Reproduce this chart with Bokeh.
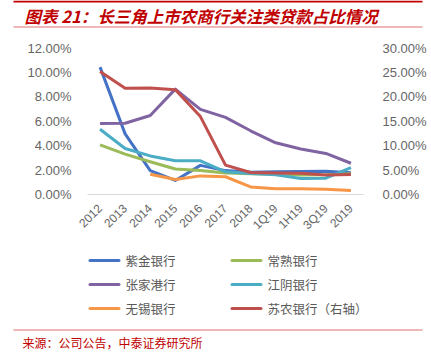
import math
from bokeh.plotting import figure
from bokeh.layouts import column
from bokeh.models import (Range1d, FactorRange, LinearAxis, FixedTicker,
                          PrintfTickFormatter)
from bokeh.core.properties import value
from bokeh.embed import file_html
from bokeh.resources import INLINE

# ---------------- data ----------------
categories = ["2012", "2013", "2014", "2015", "2016", "2017", "2018",
              "1Q19", "1H19", "3Q19", "2019"]
nan = float("nan")
zijin = [10.4, 4.95, 1.95, 1.15, 2.38, 1.95, 1.82, 1.85, 1.88, 1.9, 1.78]
changshu = [4.05, 3.3, 2.67, 2.08, 1.95, 1.75, 1.7, 1.65, 1.6, 1.62, 1.7]
zhangjiagang = [5.8, 5.82, 6.45, 8.6, 6.95, 6.3, 5.2, 4.22, 3.72, 3.35, 2.55]
jiangyin = [5.33, 3.75, 3.15, 2.75, 2.75, 1.85, 1.72, 1.62, 1.3, 1.33, 2.2]
wuxi = [nan, nan, 1.65, 1.22, 1.52, 1.45, 0.62, 0.47, 0.47, 0.42, 0.33]
sunong_right = [25.1, 21.7, 21.75, 21.4, 15.9, 6.0, 4.5, 4.4, 4.35, 4.0, 4.1]

series_names = ["紫金银行", "常熟银行", "张家港行", "江阴银行", "无锡银行", "苏农银行（右轴）"]
left_ticks = [0, 2, 4, 6, 8, 10, 12]
right_ticks = [0, 5, 10, 15, 20, 25, 30]
title_text = "图表 21：长三角上市农商行关注类贷款占比情况"
source_text = "来源：公司公告，中泰证券研究所"

colors = ["#4472C4", "#9BBB59", "#8064A2", "#4BACC6", "#F79646", "#C0504D"]

W = 431
cjk = "Noto Sans CJK SC"
tick_font = "Liberation Sans"
gray = "#666666"


def blank_fig(h):
    f = figure(width=W, height=h, output_backend="svg", toolbar_location=None,
               tools="", x_range=Range1d(0, W), y_range=Range1d(0, h),
               x_axis_type=None, y_axis_type=None,
               min_border=0, min_border_left=0, min_border_right=0,
               min_border_top=0, min_border_bottom=0, frame_align=False)
    f.outline_line_color = None
    f.xgrid.grid_line_color = None
    f.ygrid.grid_line_color = None
    f.background_fill_color = "white"
    f.border_fill_color = "white"
    return f


# ---------------- title strip (canvas y 0..40), y measured upward ----------------
TOP_H = 40
top = blank_fig(TOP_H)
top.line(x=[13, 422], y=[TOP_H - 1, TOP_H - 1], line_color="#C00000", line_width=2)
top.line(x=[13, 422], y=[TOP_H - 26.5, TOP_H - 26.5], line_color="#E8A0A0",
         line_width=1.5)
top.text(x=[24], y=[TOP_H - 15], text=[title_text], text_font=value(cjk),
         text_font_size="16.5px", text_font_style="bold italic",
         text_color="#C00000", text_baseline="middle", text_align="left")

# ---------------- main chart (canvas y 40..240) ----------------
MAIN_TOP, MAIN_BOT = 40, 240
FL, FR, FT, FB = 87, 363, 47, 197  # frame edges (canvas px)

p = figure(width=W, height=MAIN_BOT - MAIN_TOP, output_backend="svg",
           toolbar_location=None, tools="",
           x_range=FactorRange(factors=categories, range_padding=0),
           y_range=Range1d(0, 12),
           min_border_left=FL, min_border_right=W - FR,
           min_border_top=FT - MAIN_TOP, min_border_bottom=MAIN_BOT - FB,
           frame_align=False)
p.extra_y_ranges = {"right": Range1d(0, 30)}
p.outline_line_color = None
p.xgrid.grid_line_color = None
p.ygrid.grid_line_color = None
p.background_fill_color = "white"
p.border_fill_color = "white"

yl = p.yaxis[0]
yl.ticker = FixedTicker(ticks=left_ticks)
yl.formatter = PrintfTickFormatter(format="%.2f%%")
yl.axis_line_color = None
yl.major_tick_line_color = None
yl.minor_tick_line_color = None
yl.major_label_standoff = 10
yl.major_label_text_font = tick_font
yl.major_label_text_font_size = "13px"
yl.major_label_text_color = gray

yr = LinearAxis(y_range_name="right")
yr.ticker = FixedTicker(ticks=right_ticks)
yr.formatter = PrintfTickFormatter(format="%.2f%%")
yr.axis_line_color = None
yr.major_tick_line_color = None
yr.minor_tick_line_color = None
yr.major_label_standoff = 13
yr.major_label_text_font = tick_font
yr.major_label_text_font_size = "13px"
yr.major_label_text_color = gray
p.add_layout(yr, "right")

xa = p.xaxis[0]
xa.axis_line_color = "#D9D9D9"
xa.axis_line_width = 1
xa.major_tick_line_color = None
xa.minor_tick_line_color = None
xa.major_label_orientation = math.pi / 4
xa.major_label_standoff = 6
xa.major_label_text_font = tick_font
xa.major_label_text_font_size = "12px"
xa.major_label_text_color = gray

left_series = [zijin, changshu, zhangjiagang, jiangyin, wuxi]
for vals, c in zip(left_series, colors[:5]):
    p.line(categories, vals, line_color=c, line_width=3, line_join="round")
p.line(categories, sunong_right, line_color=colors[5], line_width=3,
       line_join="round", y_range_name="right")

# ---------------- legend + source (canvas y 240..356), y measured upward ----------------
BOT_H = 356 - MAIN_BOT


def by(y):
    return BOT_H - (y - MAIN_BOT)


bot = blank_fig(BOT_H)
rows_y = [260, 284, 308]
cols_x = [88, 230]
lx0, lx1, ly, tx, ty, lc = [], [], [], [], [], []
for i, (name, c) in enumerate(zip(series_names, colors)):
    r, col = divmod(i, 2)
    x0 = cols_x[col]
    y0 = by(rows_y[r])
    lx0.append(x0 + 1.5)
    lx1.append(x0 + 30.5)
    ly.append(y0)
    tx.append(x0 + 37)
    ty.append(y0)
    lc.append(c)
bot.segment(x0=lx0, y0=ly, x1=lx1, y1=ly, line_color=lc, line_width=3,
            line_cap="round")
bot.text(x=tx, y=ty, text=series_names, text_font=value(cjk),
         text_font_size="12.5px", text_color="#595959",
         text_baseline="middle", text_align="left")
bot.line(x=[13, 422], y=[by(329.5), by(329.5)], line_color="#E8A0A0",
         line_width=1.5)
bot.text(x=[22], y=[by(342)], text=[source_text], text_font=value(cjk),
         text_font_size="12px", text_color="#C00000",
         text_baseline="middle", text_align="left")

layout = column(top, p, bot, spacing=0)
open("out.html", "w").write(file_html(layout, INLINE))
